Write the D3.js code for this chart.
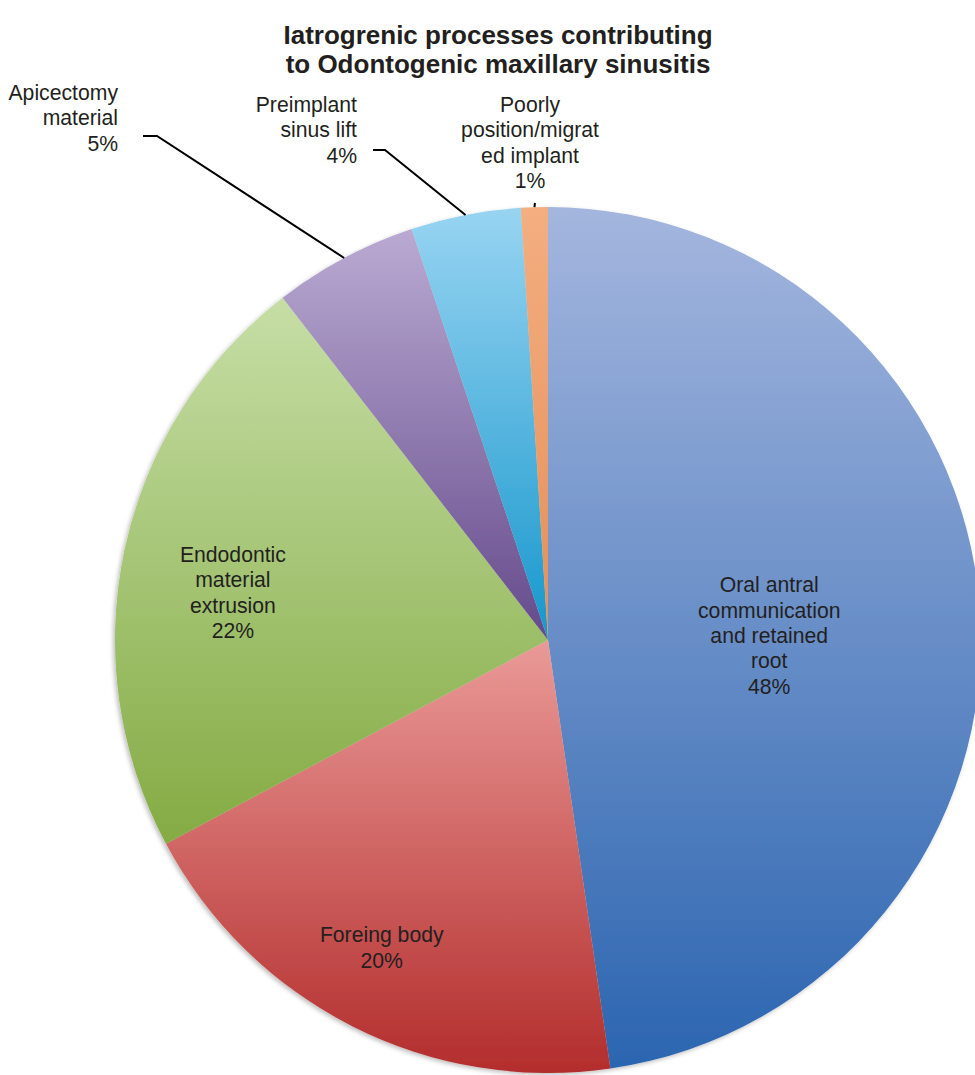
<!DOCTYPE html>
<html>
<head>
<meta charset="utf-8">
<script src="https://cdn.jsdelivr.net/npm/d3@7"></script>
<style>
  body { margin: 0; background: #fff; }
  text { font-family: "Liberation Sans", Arial, sans-serif; fill: #231f20; }
</style>
</head>
<body>
<div id="chart"></div>
<script>
// Data for the pie
const categories = [
  'Oral antral communication and retained root',
  'Foreing body',
  'Endodontic material extrusion',
  'Apicectomy material',
  'Preimplant sinus lift',
  'Poorly position/migrated implant'
];
const values = [47.7, 19.5, 22.3, 5.4, 4.1, 1.0];
const percentLabels = ['48%', '20%', '22%', '5%', '4%', '1%'];
const labelLines = [
  ['Oral antral', 'communication', 'and retained', 'root'],
  ['Foreing body'],
  ['Endodontic', 'material', 'extrusion'],
  ['Apicectomy', 'material'],
  ['Preimplant', 'sinus lift'],
  ['Poorly', 'position/migrat', 'ed implant']
];
const titleLines = ['Iatrogrenic processes contributing', 'to Odontogenic maxillary sinusitis'];

// gradient colours, top -> bottom of each slice
const colorTop = ['#a4b6de', '#ea9a98', '#c6dea6', '#baaad2', '#98d4f2', '#f4ae80'];
const colorBottom = ['#2b65b0', '#b32d2c', '#84ab43', '#644a8b', '#1697cc', '#e48f58'];

const width = 975;
const height = 1075;
const cx = 548, cy = 640, radius = 433;
const lineH = 25.4;

const svg = d3.select('#chart').append('svg')
  .attr('width', width)
  .attr('height', height);

const defs = svg.append('defs');
categories.forEach((c, i) => {
  const g = defs.append('linearGradient')
    .attr('id', 'grad' + i)
    .attr('x1', 0).attr('y1', 0).attr('x2', 0).attr('y2', 1);
  g.append('stop').attr('offset', '0%').attr('stop-color', colorTop[i]);
  g.append('stop').attr('offset', '100%').attr('stop-color', colorBottom[i]);
});
const shadow = defs.append('filter').attr('id', 'shadow')
  .attr('x', '-10%').attr('y', '-10%').attr('width', '120%').attr('height', '120%');
shadow.append('feDropShadow')
  .attr('dx', -2).attr('dy', 2).attr('stdDeviation', 2)
  .attr('flood-color', '#000').attr('flood-opacity', 0.25);

// title
svg.append('text')
  .attr('x', 498)
  .attr('y', 44)
  .attr('text-anchor', 'middle')
  .style('font-size', '26px')
  .style('font-weight', 'bold')
  .selectAll('tspan')
  .data(titleLines)
  .enter().append('tspan')
  .attr('x', 498)
  .attr('dy', (d, i) => i === 0 ? 0 : 29)
  .text(d => d);

const pieData = categories.map((c, i) => ({ name: c, value: values[i], i: i }));
const pie = d3.pie().sort(null).value(d => d.value);
const arc = d3.arc().outerRadius(radius).innerRadius(0);
const arcs = pie(pieData);

const g = svg.append('g').attr('transform', `translate(${cx},${cy})`);

g.append('g').attr('filter', 'url(#shadow)')
  .selectAll('.slice')
  .data(arcs)
  .enter().append('path')
  .attr('class', 'slice')
  .attr('d', arc)
  .attr('fill', d => `url(#grad${d.data.i})`);

// inside labels: centroid at a fraction of the radius plus a nudge
const inside = {
  0: { k: 0.51, dx: 1, dy: 12 },
  1: { k: 0.80, dx: -10, dy: -1 },
  2: { k: 0.73, dx: -6, dy: 19 }
};
// outside labels: elbow of the leader line and text anchor
const outside = {
  3: { elbow: [157, 136], end: [143, 136], tx: 118, ty: 100, anchor: 'end' },
  4: { elbow: [385, 150], end: [373, 150], tx: 357, ty: 112, anchor: 'end' },
  5: { elbow: null, end: [535, 203], tx: 530, ty: 112, anchor: 'middle' }
};

arcs.forEach(d => {
  const i = d.data.i;
  const lines = labelLines[i].concat([percentLabels[i]]);
  if (inside[i]) {
    const o = inside[i];
    const [x, y] = d3.arc().innerRadius(radius * o.k).outerRadius(radius * o.k).centroid(d);
    const top = y + o.dy - (lines.length - 1) * lineH / 2 + 7;
    g.append('text')
      .attr('text-anchor', 'middle')
      .style('font-size', '21.2px')
      .selectAll('tspan')
      .data(lines)
      .enter().append('tspan')
      .attr('x', x + o.dx)
      .attr('y', (t, j) => top + j * lineH)
      .text(t => t);
  } else {
    const o = outside[i];
    const mid = (d.startAngle + d.endAngle) / 2;
    const px = cx + radius * Math.sin(mid);
    const py = cy - radius * Math.cos(mid);
    const pts = [[px, py]];
    if (o.elbow) pts.push(o.elbow);
    pts.push(o.end);
    svg.append('path')
      .attr('d', d3.line()(pts))
      .attr('fill', 'none')
      .attr('stroke', '#000')
      .attr('stroke-width', 2);
    svg.append('text')
      .attr('text-anchor', o.anchor)
      .style('font-size', '21.2px')
      .selectAll('tspan')
      .data(lines)
      .enter().append('tspan')
      .attr('x', o.tx)
      .attr('y', (t, j) => o.ty + j * lineH)
      .text(t => t);
  }
});
</script>
</body>
</html>
